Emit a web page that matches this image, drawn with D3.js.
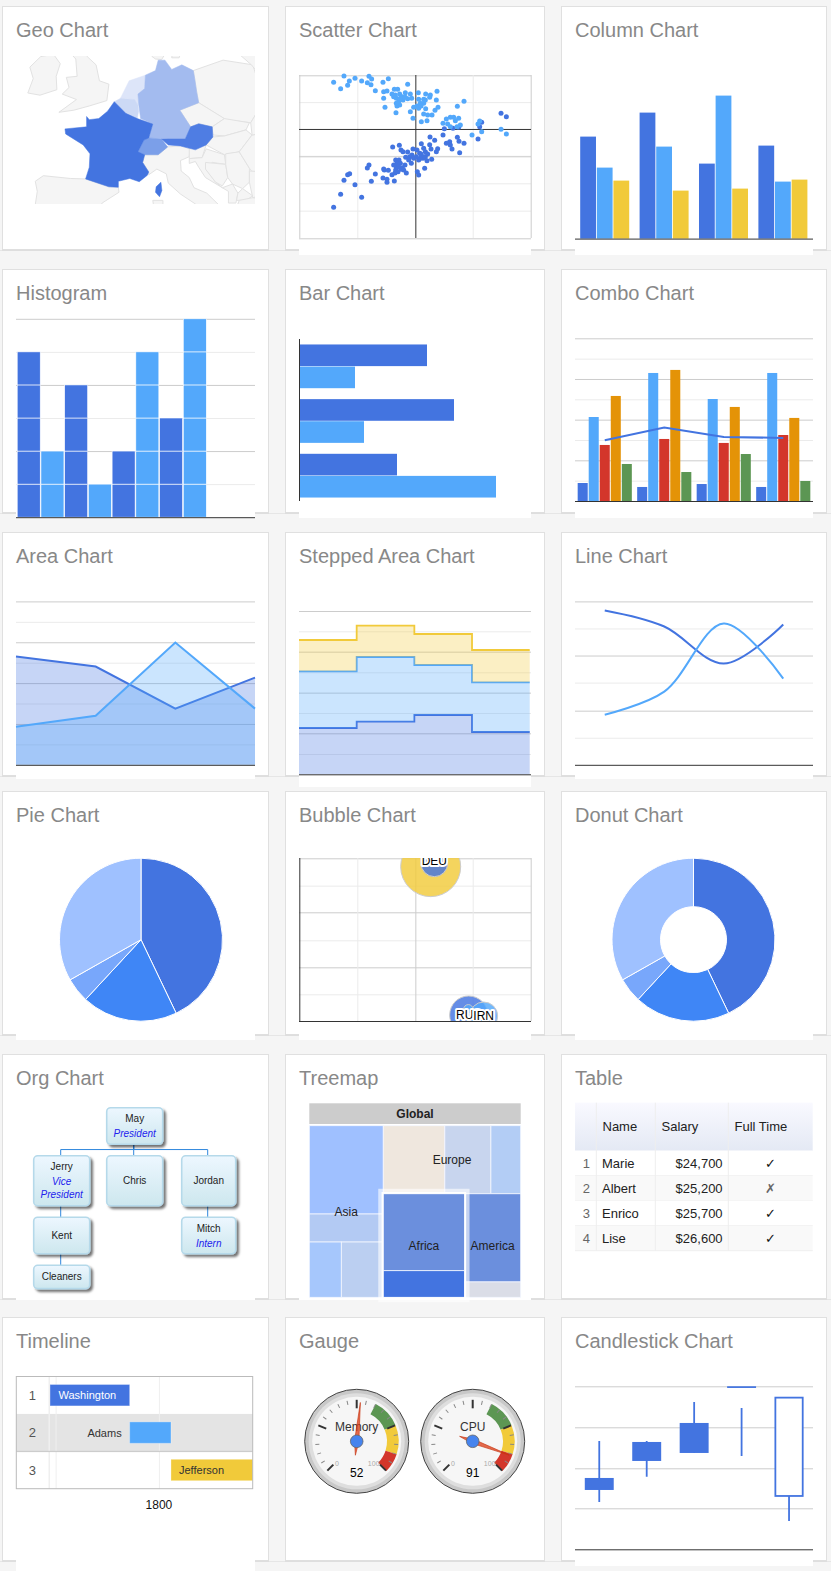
<!DOCTYPE html>
<html><head><meta charset="utf-8">
<script src="https://cdnjs.cloudflare.com/ajax/libs/d3/7.8.5/d3.min.js"></script>
<style>
html,body{margin:0;padding:0;background:#f5f5f5;overflow:hidden}
svg{display:block}
text{font-family:"Liberation Sans",Arial,sans-serif}
</style></head><body>
<svg id="c" width="831" height="1571"></svg>
<script>
// ---------- DATA ----------
const titles=[["Geo Chart","Scatter Chart","Column Chart"],["Histogram","Bar Chart","Combo Chart"],["Area Chart","Stepped Area Chart","Line Chart"],["Pie Chart","Bubble Chart","Donut Chart"],["Org Chart","Treemap","Table"],["Timeline","Gauge","Candlestick Chart"]];
const palette={dark:"#4374e0",light:"#53a8fb",yellow:"#f1ca3a",red:"#d3362b",orange:"#e49307",green:"#5c9653"};

// geo (lon,lat rings)
const france=[[2.5,51.1],[4.2,50],[5.9,49.5],[8.2,48.97],[7.6,47.6],[6.9,47.4],[6,46.2],[7,45.9],[6.7,45.1],[7.6,44.1],[7.4,43.75],[6.2,43.05],[4.8,43.4],[3.1,43.1],[3.1,42.45],[1.7,42.5],[-1.75,43.35],[-1.2,44.6],[-1.1,46],[-2.1,46.9],[-4.7,48],[-4.8,48.5],[-1.6,48.7],[-1.6,49.7],[-1.2,49.4],[0.2,49.5],[1.5,50.2]];
const corsica=[[9.4,43],[9.55,42.1],[9.2,41.4],[8.6,41.9],[8.7,42.5]];
const germany=[[6.1,50.9],[6,51.8],[7,52.3],[7.1,53.5],[8.6,53.9],[9,54.8],[10,54.8],[11,54],[12.5,54.4],[14.2,53.9],[14.4,53.2],[14.7,52],[15,51],[12.2,50.3],[13.8,48.7],[13,47.5],[10.5,47.5],[7.6,47.6],[8.2,48.97],[6.4,49.5]];
const austria=[[9.5,47.5],[10.5,47.5],[13,47.5],[13.8,48.7],[15,49],[17,48.7],[17.1,47.7],[16.1,46.9],[14.5,46.4],[12.3,46.8],[10.5,46.9]];
const switzerland=[[6,46.2],[6.9,47.4],[7.6,47.6],[9.5,47.5],[10.4,46.7],[9,45.9],[7,45.9]];
const belgium=[[2.5,51.1],[3.4,51.4],[5.5,51.3],[6,50.8],[6.1,50.2],[5.9,49.5],[4.2,50]];
const netherlands=[[3.4,51.4],[4.7,53],[7.1,53.5],[7,52.3],[6,51.8],[6,50.8],[5.5,51.3],[4.2,51.4]];
const uk=[[-5.7,50.1],[-3.5,50.3],[-1.2,50.7],[1.4,51.2],[1.7,52.7],[0.3,53],[-0.2,54.4],[-1.5,55.1],[-2,56],[-5,56],[-3.2,54.9],[-3,53.4],[-4.6,53.3],[-4.2,52.4],[-5.2,51.8],[-3.1,51.3]];
const ireland=[[-6,52.2],[-6.1,53.4],[-5.5,54.5],[-6.5,55.3],[-8.4,55.1],[-10,54.2],[-9.5,53.2],[-10.3,51.9],[-8.5,51.7]];
const iberia=[[-1.75,43.35],[1.7,42.5],[3.1,42.45],[3.2,41.9],[0.7,40.7],[-0.3,39.4],[0,38.8],[-9,38.8],[-9.3,40],[-8.9,42],[-9.2,43.1],[-8,43.7],[-4,43.4]];
const italy=[[6.7,45.1],[7,45.9],[9,45.9],[10.4,46.7],[12.3,46.8],[13.7,46.5],[13.6,45.7],[12.3,45.3],[12.4,44.2],[13.6,43.5],[14.3,42.4],[16.2,41.8],[18.5,40.1],[17,40.5],[16.6,38.9],[15.6,38],[15.8,39.8],[14.5,40.6],[12.3,41.7],[10.5,42.9],[10.2,43.9],[8.8,44.4],[7.6,43.8],[7.6,44.1]];
const sardinia=[[8.2,41],[9.7,41],[9.7,39.5],[8.5,39.5]];
const denmark=[[8.1,55.1],[8.6,54.9],[9.5,54.85],[10,55.3],[10.5,56.5],[8.1,56.5]];
const zealand=[[11.2,55.7],[12.5,55.7],[12.1,55],[11,55]];
const sweden=[[13,55.4],[14.3,55.5],[14.5,56.5],[12.7,56.5]];
const poland=[[14.2,53.9],[18.6,54.8],[23,54.4],[24,52.5],[24,50.5],[22.7,49.1],[19,49.4],[15,51],[14.7,52],[14.4,53.2]];
const czechia=[[12.2,50.3],[15,51],[18.8,49.5],[17,48.7],[15,49],[13.8,48.7]];
const slovakia=[[17,48.7],[18.8,49.5],[22.5,49.1],[22,48.4],[18.8,47.8],[17.1,47.9]];
const hungary=[[17.1,47.7],[18.8,47.8],[22,48.4],[22.9,47.9],[21,46.2],[18.8,45.9],[16.1,46.9]];
const slovenia=[[13.6,46.5],[16.1,46.9],[15.5,45.6],[13.6,45.5]];
const croatia=[[13.6,45.5],[15.5,45.6],[16.1,46.5],[18.8,45.9],[19,44.9],[17,45.1],[16,44.5],[17.5,43],[18.5,42.4],[16,43.5],[15,44.6],[14.5,45.2],[13.6,45]];
const bosnia=[[16,45.1],[19,44.9],[19.3,43.5],[18.5,42.6],[17.5,43],[16,44.4]];
const serbia=[[19,46],[21,46.2],[22.5,44.5],[22.5,43],[21.5,42.3],[20,42.8],[19.3,43.5],[19,44.9]];
const albania=[[18.5,42.4],[20,42.8],[20.8,41.8],[20.5,40.7],[19.4,40.7],[19.4,42]];
const romania=[[22.9,47.9],[24,48],[26,48.2],[28,46],[23,44],[22.5,44.5],[21,46.2]];
const bulgaria=[[22.5,44.2],[27,44],[28,43],[27,42],[23,41.3],[22.5,43]];
const macedonia=[[20.8,41.8],[21.5,42.3],[23,41.5],[22,41],[20.6,41]];
const greece=[[20.5,40],[21,41],[23,41.3],[26,41],[23,40],[21,38.5]];
const ukraine=[[22.7,49.1],[24,50.5],[24,52],[30,52],[30,45],[28,46],[26,48.2],[22.9,47.9]];
const belarus=[[24,52],[23.5,53.9],[27,56],[30,56],[30,52]];
const lithuania=[[21,56],[27,56],[23.5,53.9],[22.8,54.4],[21.2,55.2]];
const greyLand=[uk,ireland,iberia,italy,sardinia,denmark,zealand,sweden,poland,czechia,slovakia,hungary,slovenia,croatia,bosnia,serbia,albania,romania,bulgaria,macedonia,greece,ukraine,belarus,lithuania];
const valued=[{ring:netherlands,color:"#dde5f9"},{ring:belgium,color:"#ccd9f5"},{ring:germany,color:"#a3bbef"},{ring:switzerland,color:"#7b9fe9"},{ring:austria,color:"#4f7de3"},{ring:france,color:"#4374e0"},{ring:corsica,color:"#4374e0"}];

// scatter (unlabelled axes; arbitrary units around the origin)
const scatterDarkRaw=[[170,622],[191,583],[254,592],[234,554],[201,541],[212,524],[218,521],[271,504],[276,495],[295,522],[283,544],[318,534],[330,547],[330,538],[352,543],[345,524],[320,507],[322,510],[334,511],[356,510],[360,490],[358,500],[366,480],[356,480],[362,490],[370,490],[376,503],[388,519],[363,515],[354,519],[372,508],[384,495],[347,441],[367,436],[372,450],[378,455],[392,456],[386,472],[398,470],[403,490],[410,475],[421,515],[425,525],[443,505],[408,447],[420,450],[428,460],[440,445],[445,455],[433,431],[459,411],[473,421],[458,434],[462,447],[452,462],[445,470],[464,478],[450,482],[438,475],[425,480],[418,470],[482,446],[478,455],[498,405],[502,386],[508,430],[518,425],[520,435],[525,447],[541,412],[546,424],[561,430],[548,458],[528,385],[545,382],[603,417],[608,380],[614,367],[672,340],[688,350],[395,480],[405,465],[432,462],[440,470],[380,510],[365,500],[350,495],[430,475]];
const scatterLightRaw=[[170,247],[191,266],[201,228],[212,256],[217,243],[234,235],[254,243],[271,248],[276,229],[284,237],[282,254],[295,272],[318,247],[334,236],[392,253],[320,275],[330,273],[320,295],[324,322],[357,338],[352,268],[362,268],[345,282],[350,290],[358,295],[368,282],[376,290],[385,278],[400,282],[365,305],[360,318],[368,315],[358,310],[378,300],[392,296],[404,295],[424,278],[446,282],[460,285],[480,274],[478,300],[458,292],[440,298],[425,298],[430,310],[420,318],[410,322],[400,335],[408,355],[433,365],[450,362],[452,345],[440,342],[465,345],[474,331],[483,322],[446,326],[440,310],[541,319],[561,304],[498,370],[508,357],[520,352],[530,352],[545,355],[512,372],[520,380],[535,362],[540,380],[550,375],[585,405],[603,372],[608,363],[614,395],[672,388],[688,402],[425,325],[432,318],[445,300],[370,295],[355,285],[385,292]];

// column
const columnGroups=["A","B","C","D"];
const columnSeries=["dark","light","yellow"];
const columnDark=[102,126,75,93];
const columnLight=[71,92,143,57];
const columnYellow=[58,48,50,59];

// histogram
const histCounts=[5,2,4,1,2,5,3,6];
const histColors=["dark","light","dark","light","dark","light","dark","light"];

// bar
const barGroups=["a","b","c"];
const barDark=[128,155,98];
const barLight=[56,65,197];

// combo
const comboGroups=["2004/05","2005/06","2006/07","2007/08"];
const comboSeries=["dark","light","red","orange","green"];
const comboValues=[[177,826,551,1033,364],[138,1259,610,1289,285],[167,1003,571,925,462],[138,1259,649,817,197]];
const comboAverage=[597,722,630,620];

// area
const areaYears=["2013","2014","2015","2016"];
const areaDark=[1060,962,550,854];
const areaLight=[373,481,1197,550];

// stepped
const stepDark=[139,158,178,127];
const stepLight=[170,194,150,149];
const stepYellow=[94,94,93,97];

// line
const lineYears=["2004","2005","2006","2007"];
const lineDark=[154,138,101,140];
const lineLight=[50,73,141,86];

// pie
const pieValues=[42.9,19,4.9,33.2];
const pieColors=["#4374e0","#3f86f6","#78a7fb","#9fc1ff"];

// bubble
const bubbleIds=["","DEU","RUS","IRN",""];
const bubbleX=[394,405,508,553,507];
const bubbleY=[463,473,18,15,35];
const bubbleSize=[81,16,32.5,17.6,2];
const bubbleColors=["yellow","dark","dark","light","light"];

// org
const orgNames=["May","Jerry","Chris","Jordan","Kent","Mitch","Cleaners"];
const orgRoles=[["President"],["Vice","President"],[],[],[],["Intern"],[]];
const orgParents=[-1,0,0,0,1,3,4];
const orgColumns=[1,0,1,2,0,2,0];
const orgRows=[0,1,1,1,2,2,3];

// treemap
const treemapData={name:"Global",children:[
 {name:"Asia",children:[{name:"a1",value:583},{name:"a2",value:185},{name:"a3",children:[{name:"a4",value:158},{name:"a5",value:207}]}]},
 {name:"Rest",children:[
  {name:"Europe",children:[{name:"e1",value:374},{name:"e2",value:280},{name:"e3",value:181}]},
  {name:"Low",children:[
   {name:"Africa",children:[{name:"f1",value:558},{name:"f2",value:193}]},
   {name:"America",children:[{name:"m1",value:442},{name:"m2",value:77}]}]}]}]};
const treemapColors={a1:"#9fc0ff",a2:"#b3caf3",a4:"#a6c7fc",a5:"#bbcff1",e1:"#efe7de",e2:"#c8d5ee",e3:"#b3cdf5",f1:"#6b8fdd",f2:"#4374e0",m1:"#6b8fdd",m2:"#dadde7"};

// table
const tableHead=["","Name","Salary","Full Time"];
const tableNames=["Marie","Albert","Enrico","Lise"];
const tableSalary=["$24,700","$25,200","$25,700","$26,600"];
const tableFull=[true,false,true,true];

// timeline
const tlNames=["Washington","Adams","Jefferson"];
const tlStart=[1789.46,1797.17,1801.17];
const tlEnd=[1797.17,1801.17,1809.17];
const tlColors=["dark","light","yellow"];

// gauge
const gaugeLabels=["Memory","CPU"];
const gaugeValues=[52,91];
const gaugeZones=[[60,75,"#5c9653"],[75,90,"#f1ca3a"],[90,100,"#d3362b"]];

// candlestick
const candleLow=[142,218,289,280,85];
const candleOpen=[214,322,379,570,160];
const candleClose=[178,265,289,484,455];
const candleHigh=[325,325,442,424,455];

// ---------- LAYOUT ----------
const svg=d3.select("#c");
const defs=svg.append("defs");
const colX=[[2.5,268.5],[285.5,544.5],[561.5,826.5]];
const rowY=[[6.5,249.5],[269.5,512.5],[532.5,775.5],[791.5,1034.5],[1054.5,1298.5],[1317.5,1560.5]];
const plotX=[[16,255],[299,531],[575,813]];
const overlays=[[1,0,255],[2,0,255],[0,1,518],[1,1,518],[2,1,518],[0,2,779],[1,2,787],[2,2,779],[0,3,1040],[1,3,1040],[2,3,1040],[0,4,1300],[1,4,1300],[0,5,1571],[2,5,1566]];

rowY.forEach(r=>svg.append("rect").attr("x",0).attr("y",r[1]+.5).attr("width",831).attr("height",1).attr("fill","#e6e6e6"));
titles.forEach((row,ri)=>row.forEach((t,ci)=>{
  svg.append("rect").attr("x",colX[ci][0]).attr("y",rowY[ri][0]).attr("width",colX[ci][1]-colX[ci][0]).attr("height",rowY[ri][1]-rowY[ri][0]).attr("fill","#fff").attr("stroke","#e0e0e0");
  svg.append("rect").attr("x",colX[ci][0]-.5).attr("y",rowY[ri][1]).attr("width",colX[ci][1]-colX[ci][0]+1).attr("height",1.5).attr("fill","#dedede");
}));
overlays.forEach(o=>svg.append("rect").attr("x",plotX[o[0]][0]).attr("y",rowY[o[1]][1]-1).attr("width",plotX[o[0]][1]-plotX[o[0]][0]).attr("height",o[2]-rowY[o[1]][1]+1).attr("fill","#fff"));
titles.forEach((row,ri)=>row.forEach((t,ci)=>{
  svg.append("text").attr("x",colX[ci][0]+13.5).attr("y",rowY[ri][0]+30.5).attr("font-size",20).attr("fill","#888").text(t);
}));

let clipN=0;
function clip(x,y,w,h){const id="clip"+(++clipN);defs.append("clipPath").attr("id",id).append("rect").attr("x",x).attr("y",y).attr("width",w).attr("height",h);return `url(#${id})`;}
function hgrid(y,vals,x0,x1,color){svg.append("g").attr("transform",`translate(${x0},0)`).call(d3.axisRight(y).tickValues(vals).tickSize(x1-x0).tickFormat("")).call(s=>s.select(".domain").remove()).selectAll("line").attr("stroke",color);}
function vgrid(x,vals,y0,y1,color){svg.append("g").attr("transform",`translate(0,${y0})`).call(d3.axisBottom(x).tickValues(vals).tickSize(y1-y0).tickFormat("")).call(s=>s.select(".domain").remove()).selectAll("line").attr("stroke",color);}
const MAJOR="#cccccc",MINOR="#ebebeb",AXIS="#333333";

// ---------- GEO ----------
(function(){
  const proj=d3.geoMercator().scale(387).translate([97.4,504.5]);
  const ringPath=r=>d3.line()(r.map(proj))+"Z";
  const g=svg.append("g").attr("clip-path",clip(27,56,228,148));
  g.selectAll("path.l").data(greyLand).join("path").attr("d",ringPath).attr("fill","#f5f5f5").attr("stroke","#e2e2e2").attr("stroke-width",1);
  g.selectAll("path.v").data(valued).join("path").attr("class","v").attr("d",d=>ringPath(d.ring)).attr("fill",d=>d.color).attr("stroke",d=>d.color).attr("stroke-width",.5);
})();

// ---------- SCATTER ----------
(function(){
  const x=d3.scaleLinear().domain([-348,346]).range([299.3,530.7]);
  const y=d3.scaleLinear().domain([161,-328]).range([75.3,238.3]);
  hgrid(y,[107,-53,-161+0,-219+0].map((v,i)=>[80.5,-80.5,-163,-245][i]),299,531,MINOR);
  hgrid(y,[161,-82,-328],299,531,MAJOR);
  vgrid(x,[-174,172],75,238,MINOR);
  vgrid(x,[-348,346],75,238,MAJOR);
  hgrid(y,[0],299,531,AXIS);
  vgrid(x,[0],75,238,AXIS);
  const toData=p=>[p[0]-415,387-p[1]];
  const draw=(arr,c)=>svg.append("g").selectAll("circle").data(arr.map(toData)).join("circle").attr("cx",d=>x(d[0])).attr("cy",d=>y(d[1])).attr("r",2.5).attr("fill",c);
  draw(scatterDarkRaw,palette.dark);
  draw(scatterLightRaw,palette.light);
})();

// ---------- COLUMN ----------
(function(){
  const x0=d3.scaleBand().domain(columnGroups).range([575,812.6]).paddingInner(.175).paddingOuter(.0875);
  const x1=d3.scaleBand().domain(columnSeries).range([0,x0.bandwidth()]).paddingInner(.05);
  const y=d3.scaleLinear().domain([0,164]).range([238.6,74.6]);
  const vals={dark:columnDark,light:columnLight,yellow:columnYellow};
  columnSeries.forEach(s=>svg.append("g").selectAll("rect").data(vals[s]).join("rect")
    .attr("x",(d,i)=>x0(columnGroups[i])+x1(s)).attr("width",x1.bandwidth()).attr("y",d=>y(d)).attr("height",d=>y(0)-y(d)).attr("fill",palette[s]));
  hgrid(y,[0],575,813,AXIS);
})();

// ---------- HISTOGRAM ----------
(function(){
  const x=d3.scaleBand().domain(d3.range(histCounts.length)).range([16.5,207]).padding(.03);
  const y=d3.scaleLinear().domain([0,6]).range([517.2,318.8]);
  hgrid(y,[6,4,2],16,255,MAJOR);
  hgrid(y,[5,3,1],16,255,MINOR);
  histCounts.forEach((n,i)=>{
    svg.append("g").selectAll("rect").data(d3.range(n)).join("rect").attr("x",x(i)).attr("width",x.bandwidth()).attr("y",d=>y(d+1)).attr("height",y(0)-y(1)).attr("fill",palette[histColors[i]]).attr("stroke","#fff").attr("stroke-width",.6);
  });
  hgrid(y,[0],16,255,AXIS);
})();

// ---------- BAR ----------
(function(){
  const y0=d3.scaleBand().domain(barGroups).range([339,503]).paddingInner(.2).paddingOuter(.1);
  const y1=d3.scaleBand().domain(["dark","light"]).range([0,y0.bandwidth()]).paddingInner(.02);
  const x=d3.scaleLinear().domain([0,232]).range([299,531]);
  [["dark",barDark],["light",barLight]].forEach(([s,v])=>svg.append("g").selectAll("rect").data(v).join("rect").attr("x",x(0)).attr("width",d=>x(d)-x(0)).attr("y",(d,i)=>y0(barGroups[i])+y1(s)).attr("height",y1.bandwidth()).attr("fill",palette[s]));
  vgrid(x,[0],339,501,AXIS);
})();

// ---------- COMBO ----------
(function(){
  const x0=d3.scaleBand().domain(comboGroups).range([575,813]).paddingInner(.09).paddingOuter(.045);
  const x1=d3.scaleBand().domain(comboSeries).range([0,x0.bandwidth()]).paddingInner(.09);
  const y=d3.scaleLinear().domain([0,1600]).range([501,338.3]);
  hgrid(y,[1600,1200,800,400],575,813,MAJOR);
  hgrid(y,[1400,1000,600,200],575,813,MINOR);
  comboValues.forEach((row,g)=>svg.append("g").selectAll("rect").data(row).join("rect").attr("x",(d,i)=>x0(comboGroups[g])+x1(comboSeries[i])).attr("width",x1.bandwidth()).attr("y",d=>y(d)).attr("height",d=>y(0)-y(d)).attr("fill",(d,i)=>palette[comboSeries[i]]));
  const ln=d3.line().x((d,i)=>x0(comboGroups[i])+x0.bandwidth()/2).y(d=>y(d));
  svg.append("path").attr("d",ln(comboAverage)).attr("fill","none").attr("stroke",palette.dark).attr("stroke-width",2);
  hgrid(y,[0],575,813,AXIS);
})();

// ---------- AREA ----------
(function(){
  const x=d3.scalePoint().domain(areaYears).range([16,255]);
  const y=d3.scaleLinear().domain([0,1600]).range([764.8,601.4]);
  hgrid(y,[1600,1200,800,400],16,255,MAJOR);
  hgrid(y,[1400,1000,600,200],16,255,MINOR);
  [[areaDark,palette.dark],[areaLight,palette.light]].forEach(([v,c])=>{
    const a=d3.area().x((d,i)=>x(areaYears[i])).y0(y(0)).y1(d=>y(d));
    const l=d3.line().x((d,i)=>x(areaYears[i])).y(d=>y(d));
    svg.append("path").attr("d",a(v)).attr("fill",c).attr("opacity",.3);
    svg.append("path").attr("d",l(v)).attr("fill","none").attr("stroke",c).attr("stroke-width",2);
  });
  hgrid(y,[0],16,255,AXIS);
})();

// ---------- STEPPED ----------
(function(){
  const x=d3.scaleLinear().domain([0,4]).range([299,529.7]);
  const y=d3.scaleLinear().domain([0,490]).range([774.3,611]);
  hgrid(y,[490,368,245,123],299,531,MAJOR);
  hgrid(y,[429,306,184,61],299,531,MINOR);
  const rows=stepDark.map((d,i)=>({i,dark:d,light:stepLight[i],yellow:stepYellow[i]}));
  rows.push({...rows[3],i:4});
  const stack=d3.stack().keys(["dark","light","yellow"])(rows);
  stack.forEach(s=>{
    const c=palette[s.key];
    const a=d3.area().curve(d3.curveStepAfter).x(d=>x(d.data.i)).y0(d=>y(d[0])).y1(d=>y(d[1]));
    const l=d3.line().curve(d3.curveStepAfter).x(d=>x(d.data.i)).y(d=>y(d[1]));
    svg.append("path").attr("d",a(s)).attr("fill",c).attr("opacity",.3);
    svg.append("path").attr("d",l(s)).attr("fill","none").attr("stroke",c).attr("stroke-width",1.8);
  });
  hgrid(y,[0],299,531,AXIS);
})();

// ---------- LINE ----------
(function(){
  const x=d3.scalePoint().domain(lineYears).range([575,813]).padding(.5);
  const y=d3.scaleLinear().domain([0,163]).range([764.8,601.4]);
  hgrid(y,[163,109,54],575,813,MAJOR);
  hgrid(y,[136,82,27],575,813,MINOR);
  [[lineDark,palette.dark],[lineLight,palette.light]].forEach(([v,c])=>{
    const l=d3.line().curve(d3.curveCatmullRom.alpha(.5)).x((d,i)=>x(lineYears[i])).y(d=>y(d));
    svg.append("path").attr("d",l(v)).attr("fill","none").attr("stroke",c).attr("stroke-width",2);
  });
  hgrid(y,[0],575,813,AXIS);
})();

// ---------- PIE / DONUT ----------
function pieChart(cx,cy,inner){
  const arcs=d3.pie().sort(null)(pieValues);
  const arc=d3.arc().innerRadius(inner).outerRadius(81.5);
  svg.append("g").attr("transform",`translate(${cx},${cy})`).selectAll("path").data(arcs).join("path").attr("d",arc).attr("fill",(d,i)=>pieColors[i]).attr("stroke","#fff").attr("stroke-width",1);
}
pieChart(141,939.7,0);
pieChart(693.5,939.7,33);

// ---------- BUBBLE ----------
(function(){
  const x=d3.scaleLinear().domain([0,694]).range([299.3,530.7]);
  const y=d3.scaleLinear().domain([0,488]).range([1021,858.3]);
  hgrid(y,[488,326,161],299,531,MAJOR);
  hgrid(y,[406,242,80],299,531,MINOR);
  vgrid(x,[174,520],858,1021,MINOR);
  vgrid(x,[348,694],858,1021,MAJOR);
  const r=d3.scaleSqrt().domain([0,81]).range([0,30]);
  const g=svg.append("g").attr("clip-path",clip(299,858,232,163));
  bubbleX.forEach((d,i)=>{
    g.append("circle").attr("cx",x(d)).attr("cy",y(bubbleY[i])).attr("r",r(bubbleSize[i])).attr("fill",palette[bubbleColors[i]]).attr("fill-opacity",.82).attr("stroke","#ccc").attr("stroke-width",1);
  });
  hgrid(y,[0],299,531,AXIS);
  vgrid(x,[0],858,1021,AXIS);
  const lab=svg.append("g").attr("clip-path",clip(299,858,232,163));
  bubbleIds.forEach((id,i)=>{ if(!id) return;
    lab.append("text").attr("x",x(bubbleX[i])).attr("y",y(bubbleY[i])+ (id==="DEU"?2:4.5)).attr("text-anchor","middle").attr("font-size",12).attr("fill","#000").attr("stroke","#fff").attr("stroke-width",4).attr("stroke-linejoin","round").attr("paint-order","stroke").text(id);
  });
})();

// ---------- ORG ----------
(function(){
  const grad=defs.append("linearGradient").attr("id","orgG").attr("x1",0).attr("y1",0).attr("x2",0).attr("y2",1);
  grad.append("stop").attr("offset",0).attr("stop-color","#edf7ff");
  grad.append("stop").attr("offset",1).attr("stop-color","#cde7ee");
  const f=defs.append("filter").attr("id","orgS").attr("x","-20%").attr("y","-20%").attr("width","150%").attr("height","150%");
  f.append("feDropShadow").attr("dx",2.5).attr("dy",2.5).attr("stdDeviation",1.1).attr("flood-color","#000").attr("flood-opacity",.55);
  const colLeft=d3.scaleOrdinal([0,1,2],[33.7,106.7,181.7]);
  const colW=d3.scaleOrdinal([0,1,2],[56,56,54]);
  const linesOf=i=>1+orgRoles[i].length;
  const rowCount=d3.max(orgRows)+1;
  const rowH=d3.range(rowCount).map(r=>10+13.3*d3.max(orgNames.map((n,i)=>orgRows[i]===r?linesOf(i):1)));
  let top=1107.7; const rowTop=rowH.map(h=>{const t=top;top+=h+11.5;return t;});
  const box=i=>({x:colLeft(orgColumns[i]),w:colW(orgColumns[i]),y:rowTop[orgRows[i]],h:rowH[orgRows[i]]});
  orgNames.forEach((n,i)=>{ if(orgParents[i]<0) return;
    const a=box(orgParents[i]),b=box(i);
    const ax=a.x+a.w/2-1,bx=b.x+b.w/2-1,ay=a.y+a.h,by=b.y,my=(ay+by)/2-.5;
    svg.append("path").attr("d",d3.line()([[ax,ay],[ax,my],[bx,my],[bx,by]])).attr("fill","none").attr("stroke","#2f87dd").attr("stroke-width",1);
  });
  orgNames.forEach((n,i)=>{
    const b=box(i);
    svg.append("rect").attr("x",b.x).attr("y",b.y).attr("width",b.w).attr("height",b.h).attr("rx",4).attr("fill","url(#orgG)").attr("stroke","#b5d9ea").attr("stroke-width",1.6).attr("filter","url(#orgS)");
    const roles=orgRoles[i];
    const span=roles.length?15+12.7*(roles.length-1):0;
    const cy=b.y+b.h/2-span/2;
    svg.append("text").attr("x",b.x+b.w/2).attr("y",cy+3.5).attr("text-anchor","middle").attr("font-size",10).attr("fill","#222").text(n);
    roles.forEach((r,k)=>svg.append("text").attr("x",b.x+b.w/2).attr("y",cy+3.5+15+12.7*k).attr("text-anchor","middle").attr("font-size",10).attr("font-style","italic").attr("fill","#2222ee").text(r));
  });
})();

// ---------- TREEMAP ----------
(function(){
  const x0=309.3,x1=520.7,y0=1125.7,y1=1297.3;
  svg.append("rect").attr("x",x0).attr("y",1103.3).attr("width",x1-x0).attr("height",20.7).attr("fill","#ccc");
  svg.append("text").attr("x",(x0+x1)/2).attr("y",1117.7).attr("text-anchor","middle").attr("font-size",12).attr("font-weight","bold").attr("fill","#222").text("Global");
  const tiles={Global:d3.treemapDice,Asia:d3.treemapSlice,a3:d3.treemapDice,Rest:d3.treemapSlice,Europe:d3.treemapDice,Low:d3.treemapDice,Africa:d3.treemapSlice,America:d3.treemapSlice};
  const root=d3.hierarchy(treemapData).sum(d=>d.value||0);
  d3.treemap().size([x1-x0,y1-y0]).tile((n,a,b,c,e)=>tiles[n.data.name](n,a,b,c,e))(root);
  const g=svg.append("g").attr("transform",`translate(${x0},${y0})`);
  g.selectAll("rect").data(root.leaves()).join("rect").attr("x",d=>d.x0).attr("y",d=>d.y0).attr("width",d=>d.x1-d.x0).attr("height",d=>d.y1-d.y0).attr("fill",d=>treemapColors[d.data.name]).attr("stroke","#f4f7ff").attr("stroke-width",.8);
  const africa=root.descendants().find(d=>d.data.name==="Africa");
  g.append("rect").attr("x",africa.x0-3.5).attr("y",africa.y0-3.5).attr("width",africa.x1-africa.x0+7).attr("height",africa.y1-africa.y0+7).attr("fill","none").attr("stroke","#fff").attr("stroke-opacity",.6).attr("stroke-width",3);
  g.append("rect").attr("x",africa.x0-1).attr("y",africa.y0-1).attr("width",africa.x1-africa.x0+2).attr("height",africa.y1-africa.y0+2).attr("fill","none").attr("stroke","#fff").attr("stroke-width",2);
  ["Asia","Europe","Africa","America"].forEach(n=>{
    const d=root.descendants().find(e=>e.data.name===n);
    g.append("text").attr("x",(d.x0+d.x1)/2).attr("y",(d.y0+d.y1)/2+4.5).attr("text-anchor","middle").attr("font-size",12).attr("fill","#222").text(n);
  });
})();

// ---------- TABLE ----------
(function(){
  const tf='Roboto,"Liberation Sans",sans-serif';
  const edges=[575,596.3,655.3,728.3,812.7];
  const y=d3.scaleBand().domain(d3.range(tableNames.length)).range([1150.7,1250.7]);
  const grad=defs.append("linearGradient").attr("id","thG").attr("x1",0).attr("y1",0).attr("x2",0).attr("y2",1);
  grad.append("stop").attr("offset",0).attr("stop-color","#f9f9ff");
  grad.append("stop").attr("offset",1).attr("stop-color","#e4e9f4");
  svg.append("rect").attr("x",575).attr("y",1102.7).attr("width",237.7).attr("height",48).attr("fill","url(#thG)");
  tableNames.forEach((n,i)=>{
    svg.append("rect").attr("x",575).attr("y",y(i)).attr("width",237.7).attr("height",y.bandwidth()).attr("fill",i%2?"#f9f9f9":"#fff");
    svg.append("rect").attr("x",575).attr("y",y(i)+y.bandwidth()-.5).attr("width",237.7).attr("height",1).attr("fill","#eee");
    const base=y(i)+17;
    const t=(x,a,s,c,ff)=>svg.append("text").attr("x",x).attr("y",base).attr("text-anchor",a).attr("font-size",13).attr("font-family",ff||tf).attr("fill",c).text(s);
    t(590,"end",i+1,"#666");
    t(602,"start",n,"#222");
    t(722.6,"end",tableSalary[i],"#222");
    t(770,"middle",tableFull[i]?"\u2713":"\u2717",tableFull[i]?"#111":"#666",'"DejaVu Sans",sans-serif');
  });
  edges.slice(1,-1).forEach(e=>svg.append("rect").attr("x",e-.5).attr("y",1102.7).attr("width",1).attr("height",148).attr("fill","#eee"));
  tableHead.forEach((h,i)=>svg.append("text").attr("x",edges[i]+6.2).attr("y",1131).attr("font-size",13).attr("font-weight",500).attr("font-family",tf).attr("fill","#222").text(h));
})();

// ---------- TIMELINE ----------
(function(){
  const x=d3.scaleLinear().domain([1790,1800]).range([55.6,158.9]);
  const y=d3.scaleBand().domain(tlNames).range([1376.5,1488.7]);
  tlNames.forEach((n,i)=>{
    svg.append("rect").attr("x",16.3).attr("y",y(n)).attr("width",236.4).attr("height",y.bandwidth()).attr("fill",i===1?"#e4e4e4":"#fff");
    svg.append("text").attr("x",32.3).attr("y",y(n)+y.bandwidth()/2+4.5).attr("text-anchor","middle").attr("font-size",13).attr("fill","#555").text(i+1);
  });
  vgrid(x,[1790,1800],1376.5,1488.7,"#efefef");
  svg.append("rect").attr("x",48.5).attr("y",1376.5).attr("width",1.5).attr("height",112.2).attr("fill","#efefef");
  const g=svg.append("g").attr("clip-path",clip(50,1376,202.7,113));
  tlNames.forEach((n,i)=>g.append("rect").attr("x",x(tlStart[i])).attr("width",x(tlEnd[i])-x(tlStart[i])).attr("y",y(n)+8).attr("height",21.4).attr("fill",palette[tlColors[i]]).attr("stroke","#fff").attr("stroke-opacity",.3));
  const lab=(n,i,xx,a,c)=>svg.append("text").attr("x",xx).attr("y",y(n)+y.bandwidth()/2+4).attr("text-anchor",a).attr("font-size",11).attr("fill",c).text(n);
  lab(tlNames[0],0,x(tlStart[0])+8.5,"start","#fff");
  lab(tlNames[1],1,x(tlStart[1])-8,"end","#333");
  lab(tlNames[2],2,x(tlStart[2])+8,"start","#333");
  svg.append("rect").attr("x",16.3).attr("y",y(tlNames[2])-.5).attr("width",236.4).attr("height",1.3).attr("fill","#ccc");
  svg.append("rect").attr("x",16.3).attr("y",1376.5).attr("width",236.4).attr("height",112.2).attr("fill","none").attr("stroke","#bbb");
  svg.append("text").attr("x",x(1800)).attr("y",1509).attr("text-anchor","middle").attr("font-size",12).attr("fill","#111").text("1800");
})();

// ---------- GAUGE ----------
(function(){
  const ang=d3.scaleLinear().domain([0,100]).range([-135,135]);
  const rad=v=>ang(v)*Math.PI/180;
  const gx=d3.scalePoint().domain(gaugeLabels).range([356.7,472.7]);
  gaugeLabels.forEach((lab,i)=>{
    const v=gaugeValues[i];
    const g=svg.append("g").attr("transform",`translate(${gx(lab)},${1441.3})`);
    g.append("circle").attr("r",52).attr("fill","#c8c8c8").attr("stroke","#444").attr("stroke-width",1);
    g.append("circle").attr("r",48).attr("fill","#dedede");
    g.append("circle").attr("r",44.5).attr("fill","#f6f6f6");
    const arc=d3.arc().innerRadius(30.3).outerRadius(42);
    g.selectAll("path.z").data(gaugeZones).join("path").attr("class","z").attr("d",d=>arc({startAngle:rad(d[0]),endAngle:rad(d[1])})).attr("fill",d=>d[2]);
    g.selectAll("line.m").data(d3.range(0,101,5)).join("line").attr("class","m")
      .attr("transform",d=>`rotate(${ang(d)})`).attr("y1",d=>d%25===0?-41.5:-41.5).attr("y2",d=>d%25===0?-33:-37.5)
      .attr("stroke",d=>d%25===0?"#333":"#888").attr("stroke-width",d=>d%25===0?2:1);
    g.append("text").attr("x",-19.7).attr("y",25).attr("text-anchor","middle").attr("font-size",7).attr("fill","#aaa").text("0");
    g.append("text").attr("x",17).attr("y",25).attr("text-anchor","middle").attr("font-size",7).attr("fill","#aaa").text("100");
    g.append("text").attr("y",-10).attr("text-anchor","middle").attr("font-size",12).attr("fill","#333").text(lab);
    g.append("text").attr("y",36).attr("text-anchor","middle").attr("font-size",12).attr("fill","#000").text(v);
    g.append("path").attr("d",d3.line()([[0,-39],[2.2,0],[0,14],[-2.2,0]])+"Z").attr("transform",`rotate(${ang(v)})`).attr("fill","#dc3912").attr("fill-opacity",.75).attr("stroke","#c63310").attr("stroke-width",.6);
    g.append("circle").attr("r",6.3).attr("fill","#4684ee").attr("stroke","#666").attr("stroke-width",.8);
  });
})();

// ---------- CANDLESTICK ----------
(function(){
  const x=d3.scaleBand().domain(d3.range(candleLow.length)).range([575.3,813]).paddingInner(.39).paddingOuter(.2);
  const y=d3.scaleLinear().domain([0,489]).range([1549.3,1386.3]);
  hgrid(y,[489,366,243,123],575,813,MAJOR);
  hgrid(y,[0],575,813,AXIS);
  const g=svg.append("g").attr("clip-path",clip(575,1386.3,238,170));
  candleLow.forEach((lo,i)=>{
    const cx=x(i)+x.bandwidth()/2;
    const hi=candleHigh[i],o=candleOpen[i],c=candleClose[i];
    const filled=o>c;
    g.append("line").attr("x1",cx).attr("x2",cx).attr("y1",y(lo)).attr("y2",y(hi)).attr("stroke",palette.dark).attr("stroke-width",1.8);
    const top=Math.max(o,c),bot=Math.min(o,c);
    g.append("rect").attr("x",x(i)+(filled?0:.8)).attr("width",x.bandwidth()-(filled?0:1.6)).attr("y",y(top)).attr("height",y(bot)-y(top)).attr("fill",filled?palette.dark:"#fff").attr("stroke",palette.dark).attr("stroke-width",filled?0:1.8);
  });
})();
</script>
</body></html>
